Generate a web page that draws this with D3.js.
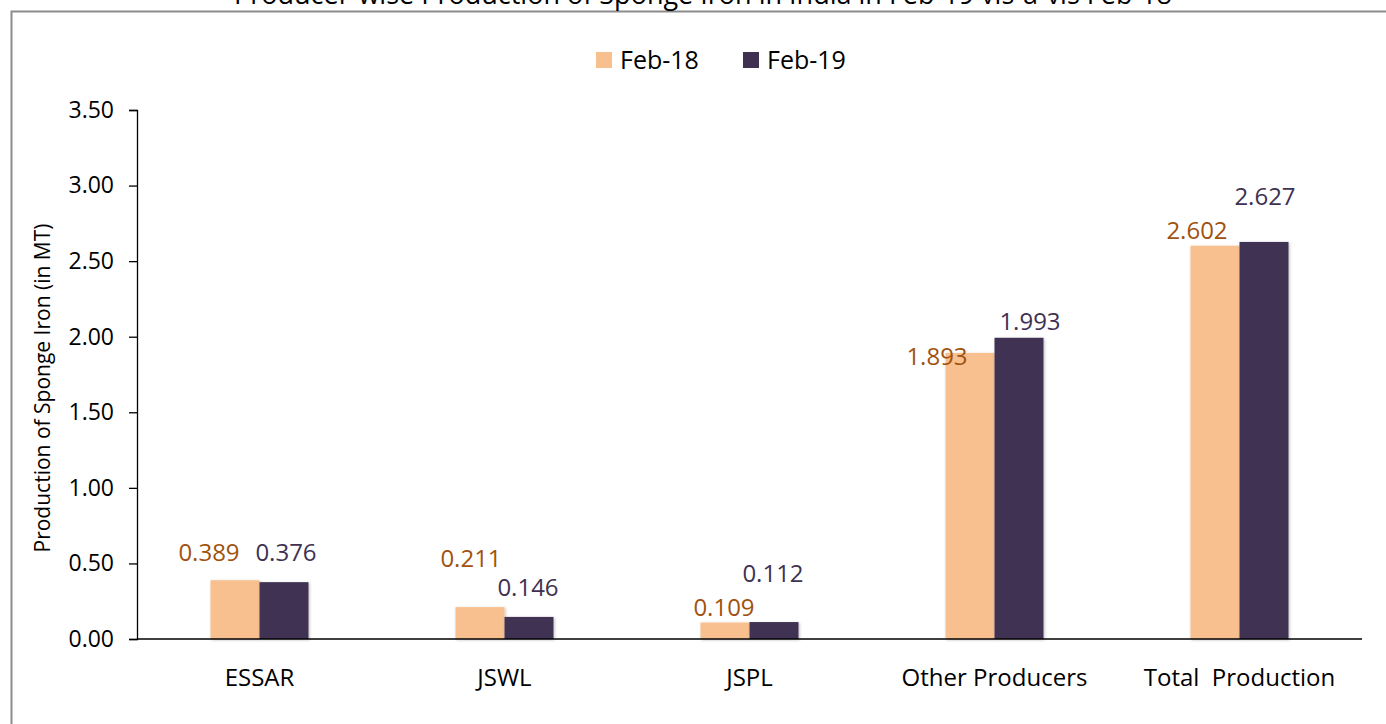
<!DOCTYPE html>
<html>
<head>
<meta charset="utf-8">
<script src="https://cdn.jsdelivr.net/npm/d3@7"></script>
<style>
  body { margin: 0; background: #fff; }
  svg { font-family: "Open Sans", Lato, sans-serif; }
</style>
</head>
<body>
<svg id="chart" width="1386" height="724"></svg>
<script>
'use strict';

var categories = ['ESSAR', 'JSWL', 'JSPL', 'Other Producers', 'Total  Production'];
var seriesNames = ['Feb-18', 'Feb-19'];
var feb18 = [0.389, 0.211, 0.109, 1.893, 2.602];
var feb19 = [0.376, 0.146, 0.112, 1.993, 2.627];
var yTicks = [0, 0.5, 1, 1.5, 2, 2.5, 3, 3.5];

// label nudges (dx, dy from bar top centre), like the hand-moved labels in the original
var nudge18 = [[-26, -19], [-9, -40], [-1, -7], [-33, 12], [-18, -7]];
var nudge19 = [[2, -21], [-1, -21], [-1, -40], [11, -8], [1, -37]];

var colors = ['#F9C08F', '#403152'];
var labelColors = ['#A0520E', '#403152'];

var svg = d3.select('#chart');
var margin = {left: 137, right: 1362, top: 110, bottom: 639};

// frame and title
svg.append('rect')
    .attr('x', 11.5).attr('y', 11.5)
    .attr('width', 1400).attr('height', 740)
    .attr('fill', 'none').attr('stroke', '#8c8c8c').attr('stroke-width', 2);

svg.append('text')
    .attr('x', 703).attr('y', 4)
    .attr('text-anchor', 'middle')
    .style('font-size', '27px')
    .text('Producer-wise Production of Sponge Iron in India in Feb-19 vis-à-vis Feb-18');

var x0 = d3.scaleBand()
    .domain(categories)
    .range([margin.left, margin.right])
    .paddingInner(0.6)
    .paddingOuter(0.3);

var x1 = d3.scaleBand()
    .domain(seriesNames)
    .range([0, x0.bandwidth()]);

var y = d3.scaleLinear()
    .domain([0, 3.5])
    .range([margin.bottom, margin.top]);

var yAxis = svg.append('g')
    .attr('transform', 'translate(' + margin.left + ',0)')
    .call(d3.axisLeft(y).tickValues(yTicks).tickFormat(d3.format('.2f')).tickSizeOuter(0).tickSize(8).tickPadding(15));
yAxis.select('.domain').attr('stroke', '#000').attr('stroke-width', 1.3);
yAxis.selectAll('.tick line').attr('stroke', '#000').attr('stroke-width', 1.3);
yAxis.selectAll('text').style('font-size', '23px').style('font-family', '"Open Sans", Lato, sans-serif').attr('fill', '#000');

var defs = svg.append('defs');
var f = defs.append('filter').attr('id', 'shadow').attr('x', '-20%').attr('y', '-20%').attr('width', '140%').attr('height', '140%');
f.append('feDropShadow').attr('dx', 1).attr('dy', 1).attr('stdDeviation', 1.5).attr('flood-opacity', 0.25);

var seriesData = [feb18, feb19];
var nudges = [nudge18, nudge19];

seriesData.forEach(function(vals, s) {
    svg.append('g').selectAll('rect')
        .data(vals)
        .enter().append('rect')
        .attr('x', function(d, i) { return x0(categories[i]) + x1(seriesNames[s]); })
        .attr('y', function(d) { return y(d); })
        .attr('width', x1.bandwidth())
        .attr('height', function(d) { return y(0) - y(d); })
        .attr('fill', colors[s])
        .attr('filter', 'url(#shadow)');
});

// x axis line
svg.append('line')
    .attr('x1', margin.left).attr('x2', margin.right)
    .attr('y1', y(0)).attr('y2', y(0))
    .attr('stroke', '#000').attr('stroke-width', 1.3);

seriesData.forEach(function(vals, s) {
    svg.append('g').selectAll('text')
        .data(vals)
        .enter().append('text')
        .attr('x', function(d, i) { return x0(categories[i]) + x1(seriesNames[s]) + x1.bandwidth() / 2 + nudges[s][i][0]; })
        .attr('y', function(d, i) { return y(d) + nudges[s][i][1]; })
        .attr('text-anchor', 'middle')
        .attr('fill', labelColors[s])
        .style('font-size', '24px')
        .text(function(d) { return d3.format('.3f')(d); });
});

// category labels
svg.append('g').selectAll('text')
    .data(categories)
    .enter().append('text')
    .attr('x', function(d) { return x0(d) + x0.bandwidth() / 2; })
    .attr('y', 686)
    .attr('text-anchor', 'middle')
    .style('font-size', '24px')
    .style('white-space', 'pre')
    .attr('xml:space', 'preserve')
    .text(function(d) { return d; });

// y axis title
svg.append('text')
    .attr('transform', 'translate(50,388) rotate(-90)')
    .attr('text-anchor', 'middle')
    .style('font-size', '21px')
    .text('Production of Sponge Iron (in MT)');

// legend
var legend = svg.append('g');
var legendX = [596, 743];
seriesNames.forEach(function(name, s) {
    legend.append('rect')
        .attr('x', legendX[s]).attr('y', 52)
        .attr('width', 16).attr('height', 16)
        .attr('fill', colors[s]);
    legend.append('text')
        .attr('x', legendX[s] + 24).attr('y', 69)
        .style('font-size', '25px')
        .text(name);
});
</script>
</body>
</html>
